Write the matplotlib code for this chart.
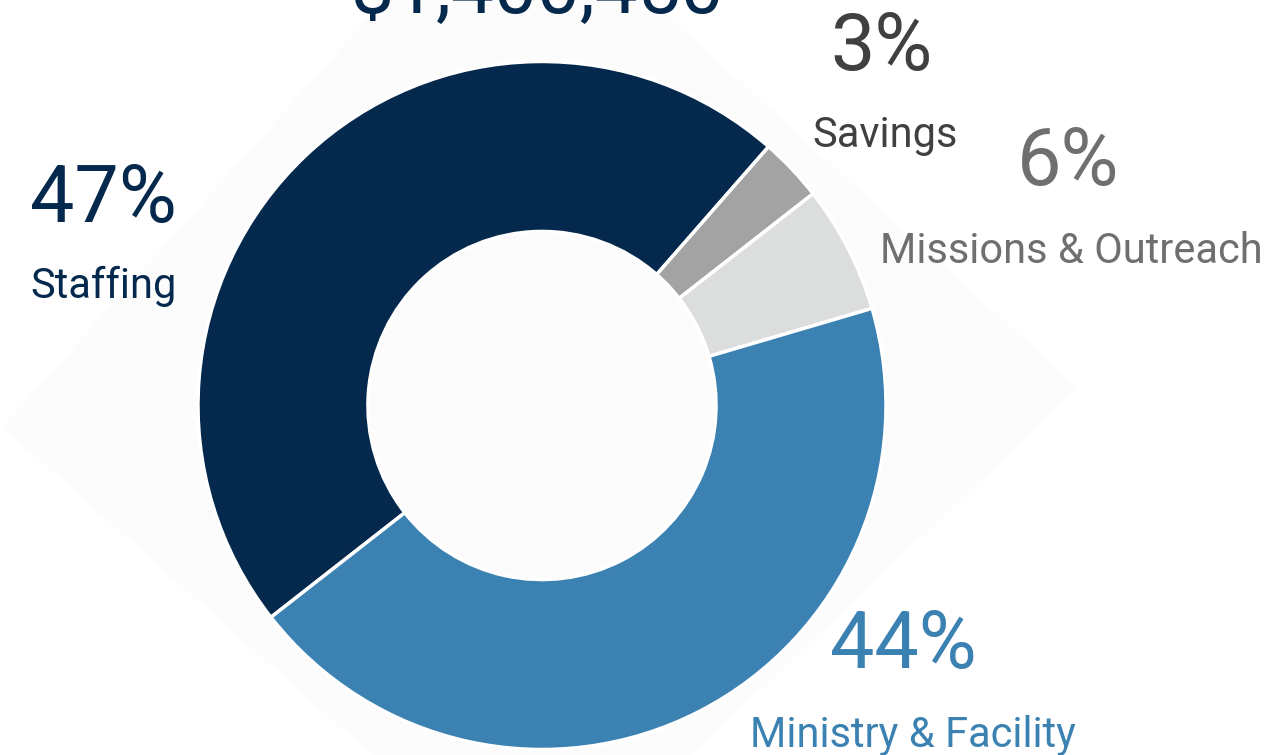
import matplotlib
matplotlib.use('Agg')
from matplotlib import pyplot as plt
from matplotlib.patches import Polygon

# budget split
categories = ['Staffing', 'Savings', 'Missions & Outreach', 'Ministry & Facility']
shares = [47, 3, 6, 44]
total_label = '$1,400,450'

slice_colors = ['#05294d', '#a3a3a3', '#dcdedd', '#3b82b3']
text_colors = ['#05294d', '#404040', '#6d6f71', '#3b82b3']

W, H = 1279, 755
plt.rcParams['font.family'] = ['Roboto', 'DejaVu Sans']

fig = plt.figure(figsize=(W / 100, H / 100), dpi=100)
ax = fig.add_axes([0, 0, 1, 1])


def py(y_top):
    # pixel row (from top) -> axis y
    return H - y_top


# faint diamond behind the donut
diamond = Polygon([(3, py(427)), (503, py(-133)), (1078, py(388)), (537, py(902))],
                  closed=True, facecolor='#fcfcfc', edgecolor='none', zorder=0)
ax.add_patch(diamond)

radius = 344
ax.pie(shares, colors=slice_colors, startangle=218, counterclock=False,
       radius=radius, center=(542, py(405.5)),
       wedgeprops=dict(width=radius * 0.494, edgecolor='white', linewidth=2.5))

ax.set_xlim(0, W)
ax.set_ylim(0, H)
ax.set_aspect('auto')
ax.axis('off')

# label anchors: (left x, baseline of percent, baseline of name)
pct_pos = [(30, 222), (830, 70), (1017, 185), (830, 668)]
name_pos = [(30, 298), (812, 147), (880, 263), (750, 747)]

for cat, val, col, (px, pb), (nx, nb) in zip(categories, shares, text_colors, pct_pos, name_pos):
    ax.text(px, py(pb), f'{val}%', color=col, fontsize=57, ha='left', va='baseline')
    ax.text(nx, py(nb), cat, color=col, fontsize=30, ha='left', va='baseline')

ax.text(538, py(13), total_label, color='#05294d', fontsize=55, ha='center', va='baseline')

fig.savefig('out.png', dpi=100)
